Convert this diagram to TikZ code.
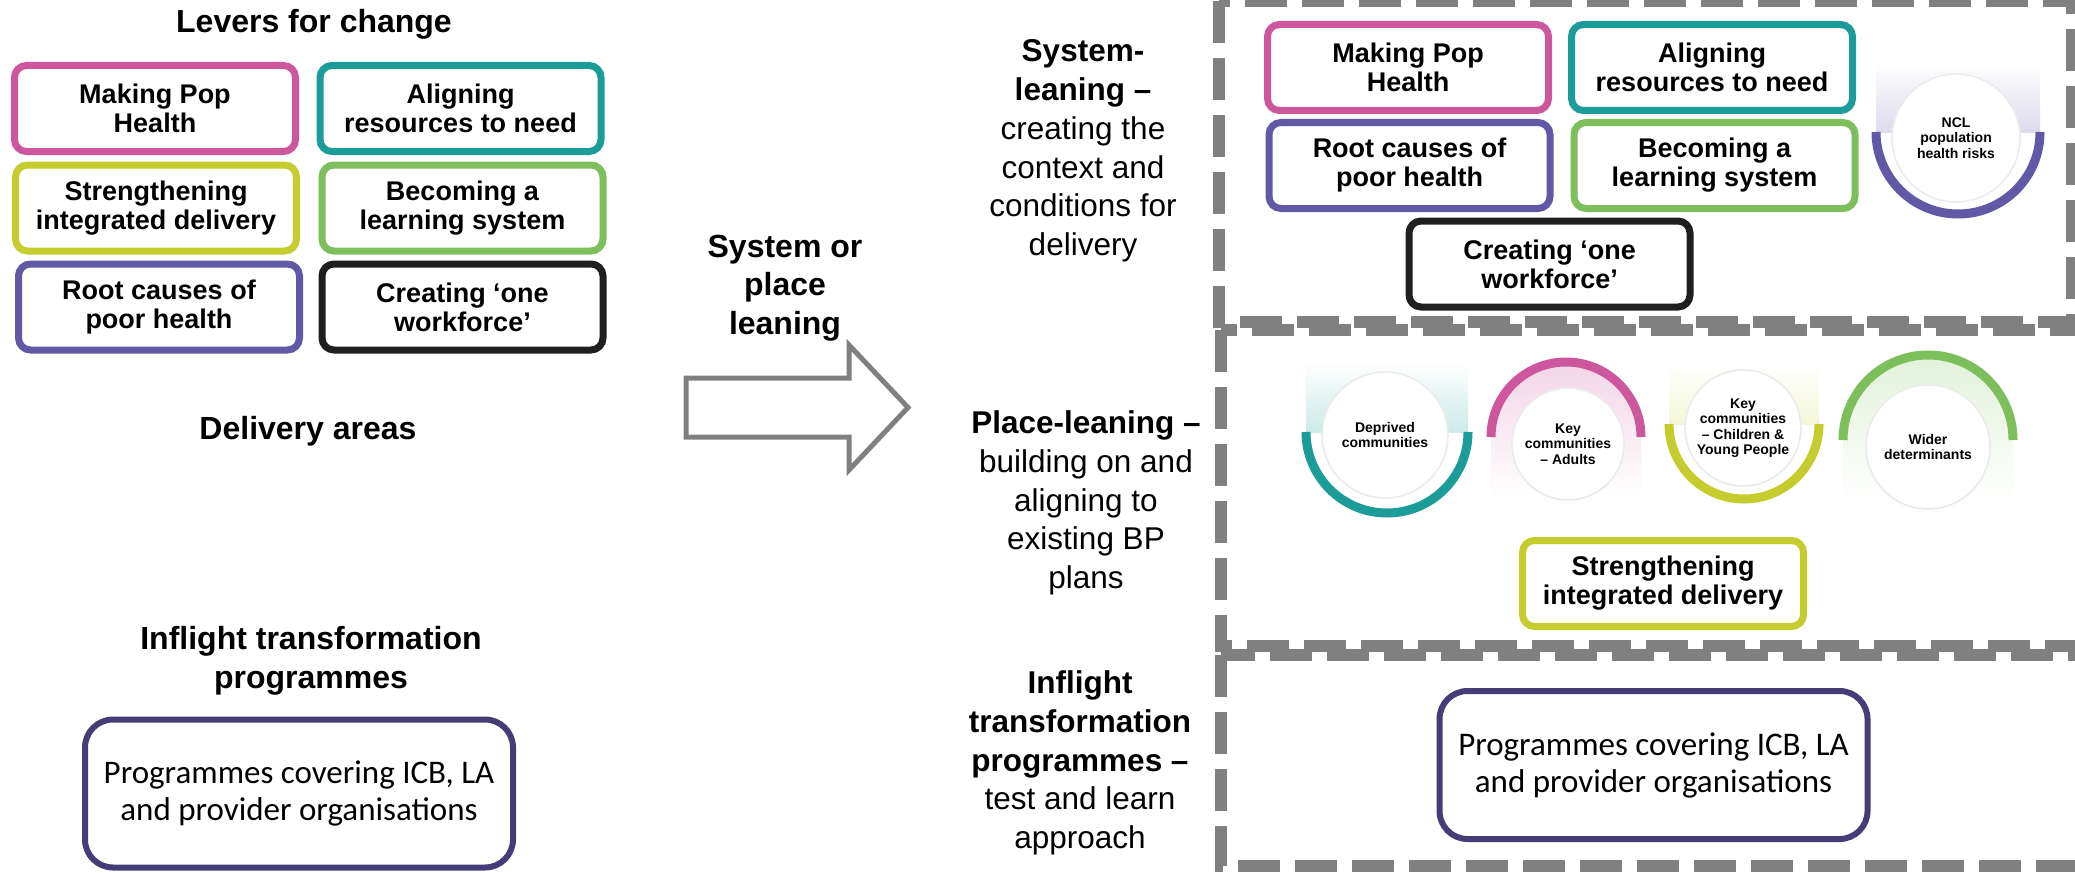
\documentclass[tikz,border=0pt]{standalone}
\usepackage{fontspec}
\setmainfont{Liberation Sans}
\newfontfamily\calibrifont{Carlito}
\definecolor{ruusu}{rgb}{0.80, 0.34, 0.61}
\definecolor{sinivihrea}{rgb}{0.11, 0.61, 0.60}
\definecolor{keltavihrea}{rgb}{0.77, 0.80, 0.18}
\definecolor{ruoho}{rgb}{0.49, 0.75, 0.36}
\definecolor{violetti}{rgb}{0.38, 0.35, 0.65}
\definecolor{yonsininen}{rgb}{0.27, 0.24, 0.47}
\definecolor{harmaa}{rgb}{0.50, 0.50, 0.50}
\definecolor{musta}{rgb}{0.12, 0.12, 0.12}
\tikzset{
	otsikko/.style={font=\fontsize{16}{19.25}\selectfont\bfseries, align=center},
	selite/.style={font=\fontsize{15.75}{19.4}\selectfont, align=center},
	vipu/.style={draw=#1, line width=3.5pt, rounded corners=6pt, fill=white, minimum width=140.5pt, minimum height=43pt, inner sep=0pt, align=center, font=\fontsize{13.5}{14.5}\selectfont\bfseries},
	ohjelma/.style={draw=yonsininen, line width=3pt, rounded corners=14pt, minimum width=214pt, minimum height=74pt, align=center, font=\calibrifont\fontsize{16.5}{18.5}\selectfont},
	ympyra/.style={circle, fill=white, draw=black!8, line width=0.8pt, inner sep=0pt, align=center, font=\fontsize{7}{7.75}\selectfont\bfseries},
	kaari/.style={line width=4.5pt},
	katko/.style={draw=harmaa, line width=6pt, dash pattern=on 21pt off 7.5pt},
	nuoli/.style={draw=harmaa, line width=2.5pt, fill=white, line join=miter}
}
\begin{document}
\begin{tikzpicture}[x=0.5pt,y=0.5pt]
	\useasboundingbox (0,0) rectangle (2075,-872);
	\node[otsikko] (levers) at (314,-24) {Levers for change};
	\node[vipu=ruusu] (mp) at (155,-108.5) {Making Pop\\Health};
	\node[vipu=sinivihrea] (ar) at (460.5,-108.5) {Aligning\\resources to need};
	\node[vipu=keltavihrea] (si) at (156,-208) {Strengthening\\integrated delivery};
	\node[vipu=ruoho] (bl) at (462.5,-208) {Becoming a\\learning system};
	\node[vipu=violetti] (rc) at (159,-307) {Root causes of\\poor health};
	\node[vipu=musta] (ow) at (462.5,-307) {Creating ‘one\\workforce’};
	\node[otsikko] (delivery) at (308,-431) {Delivery areas};
	\node[otsikko] (inflight) at (311,-661) {Inflight transformation\\programmes};
	\node[ohjelma] (prog) at (299,-793.5) {Programmes covering ICB, LA\\and provider organisations};
	\node[otsikko] (sysplace) at (785,-288) {System or\\place\\leaning};
	\draw[nuoli] (686,-378) -- (849,-378) -- (849,-345) -- (908,-407.5) -- (849,-470) -- (849,-437) -- (686,-437) -- cycle;
	\draw[katko] (1219,-1) rectangle (2072,-322);
	\draw[katko] (1221,-330) rectangle (2110,-646);
	\draw[katko] (1221,-655) rectangle (2110,-866);
	\node[selite] (syslean) at (1083,-151) {\textbf{System-}\\\textbf{leaning –}\\creating the\\context and\\conditions for\\delivery};
	\node[selite] (placelean) at (1086,-503) {\textbf{Place-leaning –}\\building on and\\aligning to\\existing BP\\plans};
	\node[selite] (inflightlean) at (1080,-763) {\textbf{Inflight}\\\textbf{transformation}\\\textbf{programmes –}\\test and learn\\approach};
	\node[vipu=ruusu] (mp2) at (1408,-67.5) {Making Pop\\Health};
	\node[vipu=sinivihrea] (ar2) at (1712,-67.5) {Aligning\\resources to need};
	\node[vipu=violetti] (rc2) at (1409.5,-165.5) {Root causes of\\poor health};
	\node[vipu=ruoho] (bl2) at (1714.5,-165.5) {Becoming a\\learning system};
	\node[vipu=musta] (ow2) at (1549.5,-264) {Creating ‘one\\workforce’};
	\shade[top color=white, bottom color=violetti!22] (1876,-62) rectangle (2040,-132);
	\node[ympyra, minimum size=64pt] (ncl) at (1956,-138) {NCL\\population\\health risks};
	\draw[kaari, violetti] (2040,-132) arc[start angle=0, end angle=-180, radius=82];
	\shade[top color=white, bottom color=sinivihrea!22] (1306,-362) rectangle (1468,-432);
	\node[ympyra, minimum size=63pt] (deprived) at (1385,-435) {Deprived\\communities};
	\draw[kaari, sinivihrea] (1468,-432) arc[start angle=0, end angle=-180, radius=81];
	\shade[top color=ruusu!25, bottom color=white] (1491,-437) arc[start angle=180, end angle=0, radius=75] -- (1641,-500) -- (1491,-500) -- cycle;
	\node[ympyra, minimum size=56pt] (adults) at (1568,-444) {Key\\communities\\– Adults};
	\draw[kaari, ruusu] (1641,-437) arc[start angle=0, end angle=180, radius=75];
	\shade[top color=white, bottom color=keltavihrea!18] (1669,-362) rectangle (1819,-424);
	\node[ympyra, minimum size=58pt] (children) at (1743,-428) {Key\\communities\\– Children \&\\Young People};
	\draw[kaari, keltavihrea] (1819,-424) arc[start angle=0, end angle=-180, radius=75];
	\shade[top color=ruoho!22, bottom color=white] (1843,-440) arc[start angle=180, end angle=0, radius=85] -- (2013,-507) -- (1843,-507) -- cycle;
	\node[ympyra, minimum size=62pt] (wider) at (1928,-447) {Wider\\determinants};
	\draw[kaari, ruoho] (2013,-440) arc[start angle=0, end angle=180, radius=85];
	\node[vipu=keltavihrea] (si2) at (1663,-583.5) {Strengthening\\integrated delivery};
	\node[ohjelma] (prog2) at (1653.5,-765) {Programmes covering ICB, LA\\and provider organisations};
\end{tikzpicture}
\end{document}
